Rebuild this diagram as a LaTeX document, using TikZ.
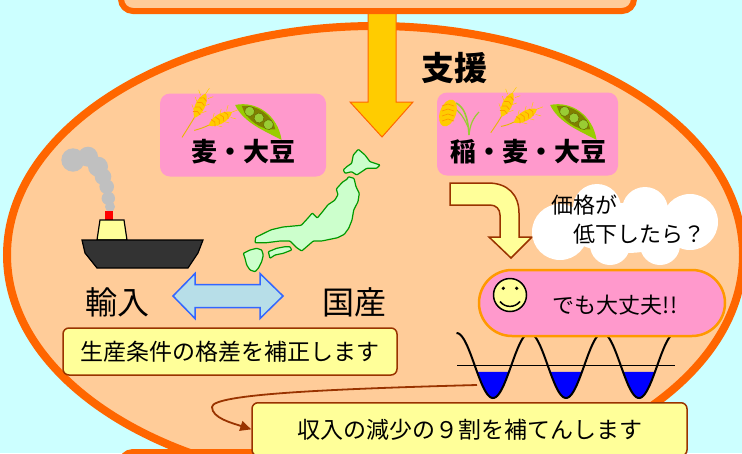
\documentclass[tikz,border=0pt]{standalone}
\usepackage{fontspec}
\setmainfont{Noto Sans CJK JP}
\usetikzlibrary{arrows.meta}

\definecolor{skyblue}{HTML}{CCFFFF}
\definecolor{peach}{HTML}{FFCC99}
\definecolor{rim}{HTML}{FF6600}
\definecolor{pinkbox}{HTML}{FF99CC}
\definecolor{cream}{HTML}{FFFF99}
\definecolor{rust}{HTML}{993300}
\definecolor{gold}{HTML}{FFCC00}
\definecolor{amber}{HTML}{FF9900}
\definecolor{stalk}{HTML}{E6B800}
\definecolor{leafgreen}{HTML}{99CC00}
\definecolor{pod}{HTML}{808000}
\definecolor{bean}{HTML}{99CC33}
\definecolor{mapfill}{HTML}{CCFFCC}
\definecolor{mapline}{HTML}{009900}
\definecolor{paleblue}{HTML}{B7DEE8}
\definecolor{linkblue}{HTML}{3366FF}
\definecolor{smoke}{HTML}{C0C0C0}
\definecolor{hull}{HTML}{333333}

\begin{document}
\begin{tikzpicture}[
  x=1pt, y=-1pt,
  frame/.style={draw=rim, fill=peach},
  cropbox/.style={fill=pinkbox, rounded corners=10pt, minimum width=#1, minimum height=83pt, inner sep=0pt},
  cropname/.style={inner sep=0pt, font=\fontsize{26}{30}\selectfont\bfseries},
  big/.style={inner sep=0pt, font=\fontsize{32}{36}\selectfont},
  note/.style={draw=rust, line width=1.5pt, fill=cream, rounded corners=6pt, font=\fontsize{23}{28}\selectfont},
  coast/.style={draw=mapline, fill=mapfill, line width=1.2pt, rounded corners=0.8pt},
  pics/wheatear/.style={code={
    \draw[stalk, line width=0.9pt] (0,10) .. controls (-1,20) .. (-3,#1);
    \fill[gold] (0,-14) .. controls (7,-7) and (6,8) .. (0,13) .. controls (-6,8) and (-7,-7) .. cycle;
    \foreach \s in {-9,-4,1,6}
      \draw[amber, line width=0.7pt] (-4,{\s+2}) -- (0,\s) -- (4,{\s+2});
    \foreach \s in {-10,-2,6}
      \draw[gold, line width=0.5pt] (-4,\s) -- (-8,{\s-4}) (4,\s) -- (8,{\s-4});
    \draw[gold, line width=0.5pt] (0,-14) -- (1,-20);
  }},
  pics/beanpod/.style={code={
    \fill[leafgreen] (-27,3) .. controls (-12,-13) and (14,-13) .. (31,5) .. controls (14,7) and (-10,13) .. cycle;
    \fill[pod] (-21,0) .. controls (-10,-10) and (10,-10) .. (20,0) .. controls (10,9) and (-10,9) .. cycle;
    \foreach \u in {-11.5,0,11.5}
      \draw[pod!80!black, fill=bean, line width=0.5pt] (\u,0) circle [radius=5];
  }},
  pics/ricestalk/.style={code={
    \draw[bean, line width=1.6pt] (0,0) .. controls (-1,-18) and (-5,-28) .. (-13,-32);
    \draw[bean, line width=1.2pt] (0,0) .. controls (1,-10) and (4,-17) .. (10,-23);
    \draw[bean, line width=1.2pt] (-1,-8) .. controls (-6,-20) and (-12,-26) .. (-18,-29);
    \fill[gold, rotate around={-20:(-21,-22)}] (-21,-22) ellipse [x radius=8, y radius=14];
    \foreach \s in {-31,-26,-21,-16}
      \draw[amber, line width=0.7pt] (-27,{\s+2}) -- (-21,\s) -- (-15,{\s+2});
  }}
]
\useasboundingbox (0,0) rectangle (742,453);
\fill[skyblue] (0,0) rectangle (742,453);

% field and the two panels
\draw[frame, line width=8pt] (375,255) ellipse [x radius=368, y radius=229];
\draw[fill=gold, draw=rim, line width=1pt]
  (368,8) -- (396,8) -- (396,102) -- (413,102) -- (382,137) -- (350,102) -- (368,102) -- cycle;
\draw[frame, line width=6pt, rounded corners=12pt] (121,-30) rectangle (634,11);
\draw[frame, line width=6pt, rounded corners=12pt] (121,452) rectangle (634,490);

\node[font=\fontsize{33}{36}\selectfont\bfseries] (support) at (454,68) {支援};

% crops
\node[cropbox=166pt] (upland) at (243,135) {};
\node[cropbox=181pt] (paddy) at (527.5,134) {};
\pic[rotate=-25] at (200,106) {wheatear=36};
\pic[rotate=-60] at (220,119) {wheatear=28};
\pic[rotate=-35] at (259,118) {beanpod};
\pic at (469,135) {ricestalk};
\pic[rotate=-25] at (507,105) {wheatear=32};
\pic[rotate=-60] at (525,116) {wheatear=26};
\pic[rotate=-35] at (574,118) {beanpod};
\node[cropname] (uplandcrops) at (243,152) {麦・大豆};
\node[cropname] (paddycrops) at (528,152) {稲・麦・大豆};

% ship
\foreach \cx/\cy/\r in {73/160/11.7, 88/156.7/10, 98/166.7/10, 103/176.7/8.3,
                        106.7/186.7/7.3, 108.3/198.3/6.7, 110/206.7/5}
  \fill[smoke] (\cx,\cy) circle [radius=\r];
\fill[red] (105,211) rectangle (113,220.5);
\draw[fill=cream, line width=1.2pt] (100,220) -- (124,220) -- (127,240) -- (97,240) -- cycle;
\draw[fill=hull, line width=1.2pt] (82,240) -- (203,240) -- (198,253) -- (188,268) -- (97,268) -- (85,253) -- cycle;

% map
\draw[coast] (358.3,149.3) -- (365,155) -- (370,161.7) -- (380,165) -- (376.7,168.3) -- (366.7,168.3)
  -- (361.7,171.7) -- (356.7,175) -- (351.7,171.7) -- (345,173.3) -- (343.3,170) -- (346.7,166.7)
  -- (351.7,163.3) -- (353.3,155) -- cycle;
\draw[coast] (348.3,176.7) -- (354,178.3) -- (356,186.7) -- (359.3,193.3) -- (358,201.7) -- (353.7,210)
  -- (352,220) -- (348.7,228.3) -- (344.3,234.3) -- (337.7,237.7) -- (330,239.3) -- (321.7,241)
  -- (313.3,241) -- (301.7,251) -- (296.7,247.7) -- (290,241) -- (280,241) -- (266.7,242.7)
  -- (255,242.7) -- (255.7,237.3) -- (271.3,229.7) -- (283,227) -- (301.3,225.3) -- (308,218)
  -- (312.3,213) -- (315,215.7) -- (317.3,218) -- (322.3,212) -- (328,204.7) -- (334.7,200.3)
  -- (338,194.7) -- (336.3,189) -- (342.3,182.3) -- (347.3,179) -- cycle;
\draw[coast] (268.3,251.7) -- (276.7,248.3) -- (285,246.7) -- (290,246.7) -- (291.7,250) -- (283.3,253.3)
  -- (275,255) -- (270,258.3) -- cycle;
\draw[coast] (243.3,253.3) -- (250,250) -- (256.7,248.3) -- (261.7,250) -- (263.3,255) -- (261.7,261.7)
  -- (258.3,268.3) -- (255,271.7) -- (250,270) -- (246.7,265) -- (245,258.3) -- cycle;

% imports against home production
\node[big] (imports) at (117,302) {輸入};
\node[big] (domestic) at (354,302) {国産};
\draw[draw=linkblue, fill=paleblue, line width=1.5pt, line join=miter]
  (173,296) -- (195,273.5) -- (195,284.5) -- (260,284.5) -- (260,273.5) -- (283,296)
  -- (260,318.5) -- (260,307.5) -- (195,307.5) -- (195,318.5) -- cycle;
\node[note, minimum width=334pt, minimum height=47pt] (gapfix) at (230,351.5) {生産条件の格差を補正します};

% price drop
\draw[fill=cream, draw=rust, line width=1.5pt]
  (450,183) -- (488,183) .. controls (508,183) and (519,195) .. (519,213) -- (519,237) -- (532,237)
  -- (511,258) -- (489,237) -- (500,237) -- (500,215) .. controls (500,209) and (496,205) .. (490,205)
  -- (450,205) -- cycle;
\foreach \cx/\cy/\r in {560/232/28, 597/208/24, 645/210/23, 690/222/28, 660/245/20, 610/245/20}
  \fill[white] (\cx,\cy) circle [radius=\r];
\fill[white] (625,228) ellipse [x radius=60, y radius=25];
\node[align=left, anchor=north west, inner sep=0pt, font=\fontsize{22}{29}\selectfont] (worry)
  at (551,195) {価格が\\\hspace*{1em}低下したら？};

% income box and its arrow
\node[note, anchor=north, minimum width=435pt, inner ysep=16pt] (compensate) at (469.5,402) {収入の減少の９割を補てんします};
\coordinate (trough) at (477,385);
\draw[rust, line width=1.8pt, -{Triangle[length=11pt,width=10pt]}]
  (trough) .. controls (330,389) and (212,394) .. (212,407) .. controls (212,418) and (232,423) .. (compensate.west);

% waves
\foreach \k [evaluate=\k as \lo using 477+73*\k, evaluate=\k as \hi using 509+73*\k] in {0,1,2}
  \fill[blue] plot[domain=\lo:\hi, samples=40] (\x, {365.5-32.5*cos(4.93151*(\x-456.5))}) -- cycle;
\draw[line width=1.5pt] (457,365.7) -- (675,365.7);
\draw[line width=2pt] plot[domain=456.5:675.5, samples=200] (\x, {365.5-32.5*cos(4.93151*(\x-456.5))});

% relief
\node[draw=amber, line width=2.5pt, fill=pinkbox, rounded corners=33pt, minimum width=246pt, minimum height=66pt] (relief) at (602,303) {};
\draw[fill=cream, line width=1.5pt] (510,295) circle [radius=16.5];
\fill (503.3,288.3) circle [radius=1.8];
\fill (516.7,288.3) circle [radius=1.8];
\draw[line width=1.5pt] (500,301.5) .. controls (505,308) and (515,308) .. (520,301.5);
\node[inner sep=0pt, font=\fontsize{22}{26}\selectfont] (fine) at (615,305) {でも大丈夫!!};
\end{tikzpicture}
\end{document}
